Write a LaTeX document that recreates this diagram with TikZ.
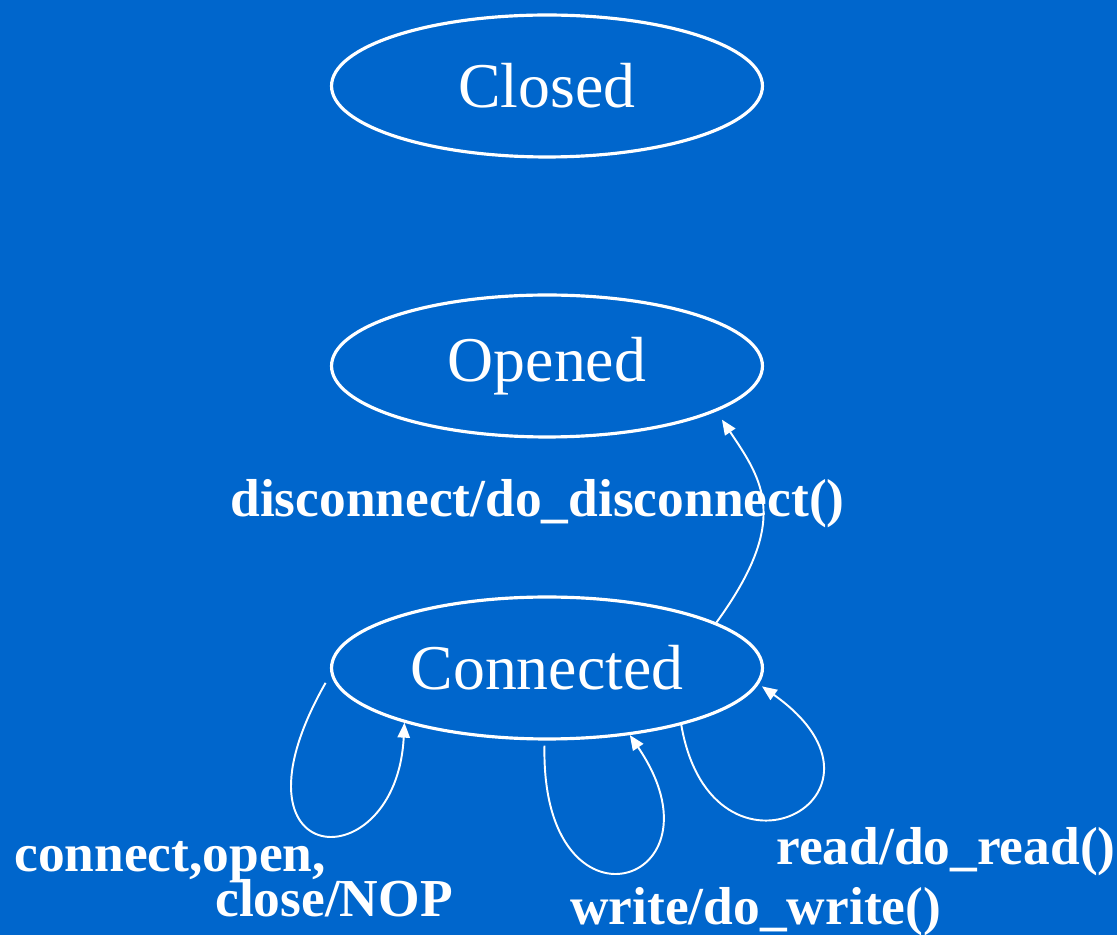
\documentclass[tikz,border=0pt]{standalone}
\usepackage{fontspec}
\setmainfont{Liberation Serif}
\usetikzlibrary{shapes.geometric,arrows.meta}
\definecolor{slideblue}{RGB}{0,102,204}

\begin{document}
\begin{tikzpicture}[x=0.02cm, y=-0.02cm,
    state/.style={ellipse, draw=white, line width=1.8pt, minimum width=8.62cm,
        minimum height=2.84cm, inner sep=0pt, text=white,
        font=\fontsize{36.3}{40}\selectfont},
    trans/.style={white, line width=1.1pt, -{Triangle[length=8.5pt,width=7pt]}},
    lbl/.style={text=white, font=\fontsize{30.4}{34}\selectfont\bfseries,
        inner sep=0pt, anchor=base west}]
    % Background
    \fill[slideblue] (0,0) rectangle (1117,935);
    \useasboundingbox (0,0) rectangle (1117,935);

    % States
    \node[state] (closed) at (547,86) {Closed};
    \node[state] (opened) at (547,366) {Opened};
    \node[state] (conn) at (547,668) {Connected};

    % Labels
    \node[lbl] (disclbl) at (230,517) {disconnect/do\_disconnect()};
    \node[lbl] (noplbl) at (14,872) {connect,open,};
    \node[lbl] (noplblb) at (215,917) {close/NOP};
    \node[lbl] (readlbl) at (776,865) {read/do\_read()};
    \node[lbl] (writelbl) at (570,925) {write/do\_write()};

    % Connected -> Opened
    \draw[trans, shorten >=0.2cm] (conn.15) .. controls +(74,-102) and +(47,70) .. (opened.345.6);

    % Self loops on Connected
    \draw[trans] ([xshift=-0.18cm]conn.184) .. controls +(-108,190) and +(-8,160) .. (conn.201);
    \draw[trans] ([yshift=-0.1cm]conn.268) .. controls +(-4,200) and +(102,150) .. (conn.321);
    \draw[trans] (conn.337) .. controls +(31,178) and +(155,110) .. ([xshift=0.1cm]conn.355);
\end{tikzpicture}
\end{document}
